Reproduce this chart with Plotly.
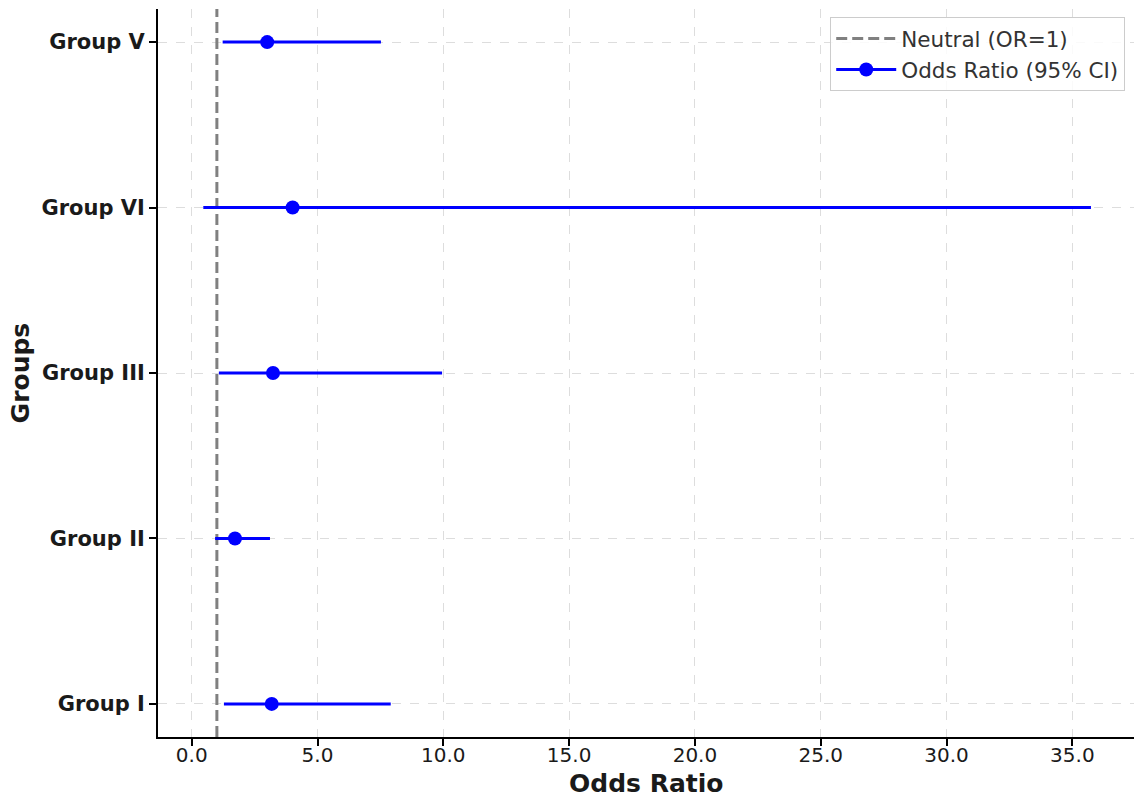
import plotly.graph_objects as go

groups = ["Group I", "Group II", "Group III", "Group VI", "Group V"]
odds_ratio = [3.18, 1.72, 3.23, 4.01, 3.00]
ci_lower = [1.28, 0.93, 1.08, 0.46, 1.23]
ci_upper = [7.91, 3.11, 9.95, 35.74, 7.52]
x_ticks = [0, 5, 10, 15, 20, 25, 30, 35]

ypos = list(range(len(groups)))
err_plus = [u - o for u, o in zip(ci_upper, odds_ratio)]
err_minus = [o - l for o, l in zip(odds_ratio, ci_lower)]

BLUE = "#0000ff"
FONT = "DejaVu Sans"
TXT = "#1a1a1a"

fig = go.Figure()

# Neutral line
fig.add_trace(go.Scatter(
    x=[1, 1], y=[-0.2, len(groups) - 0.8],
    mode="lines", line=dict(color="#808080", width=3, dash="11px,5px"),
    name="Neutral (OR=1)", showlegend=True,
))

# Odds ratios with CI
fig.add_trace(go.Scatter(
    x=odds_ratio, y=ypos, mode="markers",
    marker=dict(color=BLUE, size=14),
    error_x=dict(type="data", symmetric=False, array=err_plus, arrayminus=err_minus,
                 color=BLUE, thickness=3, width=0),
    showlegend=False, name="Odds Ratio (95% CI)",
))

# Legend proxy
fig.add_trace(go.Scatter(
    x=[None], y=[None], mode="lines+markers",
    marker=dict(color=BLUE, size=14), line=dict(color=BLUE, width=3),
    name="Odds Ratio (95% CI)",
))

fig.update_layout(
    width=1134, height=798,
    margin=dict(l=158, r=0, t=9, b=61, autoexpand=False),
    plot_bgcolor="white", paper_bgcolor="white",
    font=dict(family=FONT, color=TXT),
    legend=dict(x=0.991, y=0.989, xanchor="right", yanchor="top",
                bordercolor="#cccccc", borderwidth=1, bgcolor="rgba(255,255,255,0.85)",
                font=dict(size=21.5, family=FONT, color="#333333"),
                itemwidth=60),
    annotations=[
        dict(text="<b>Odds Ratio</b>", xref="paper", yref="paper", x=0.5, y=-0.041,
             xanchor="center", yanchor="top", showarrow=False,
             font=dict(size=25, family=FONT, color=TXT)),
        dict(text="<b>Groups</b>", xref="paper", yref="paper", x=-0.141, y=0.5,
             xanchor="center", yanchor="middle", textangle=-90, showarrow=False,
             font=dict(size=25, family=FONT, color=TXT)),
    ],
)

fig.update_xaxes(
    range=[-1.34, 37.45], tickvals=x_ticks, ticktext=[f"{v:.1f}" for v in x_ticks],
    showline=True, linecolor="black", linewidth=2, automargin=False,
    ticks="outside", ticklen=7, tickwidth=2, tickcolor="black",
    showgrid=True, gridcolor="#dddddd", gridwidth=1, griddash="dash",
    zeroline=False, ticklabelstandoff=-8,
    tickfont=dict(size=20, family=FONT, color=TXT),
)
fig.update_yaxes(
    range=[-0.2, len(groups) - 0.8], tickvals=ypos,
    ticktext=[f"<b>{g}</b>" for g in groups],
    showline=True, linecolor="black", linewidth=2, automargin=False,
    ticks="outside", ticklen=7, tickwidth=2, tickcolor="black",
    showgrid=True, gridcolor="#dddddd", gridwidth=1, griddash="dash",
    zeroline=False,
    tickfont=dict(size=21, family=FONT, color=TXT),
)

fig.write_html("out.html", config={"displayModeBar": False},
               post_script="document.body.style.margin='0px';")
